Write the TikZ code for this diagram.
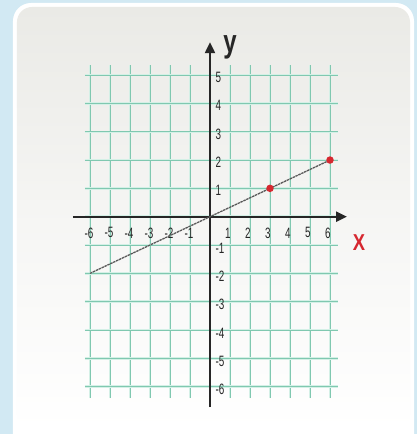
\documentclass[tikz,border=0pt]{standalone}
\usepackage{fontspec}
\setmainfont{Liberation Sans}
\usetikzlibrary{arrows.meta,positioning,calc}

\definecolor{bgblue}{RGB}{210,233,243}
\definecolor{panelgrey}{RGB}{234,234,230}
\definecolor{gridteal}{RGB}{128,200,176}
\definecolor{gridpale}{RGB}{212,240,230}
\definecolor{ptred}{RGB}{214,40,48}

\newcommand{\ticklab}[1]{\fontsize{15}{15}\selectfont\scalebox{0.66}[1]{#1}}

\tikzset{
    gridline/.style={gridpale, line width=2.4pt},
    gridcore/.style={gridteal, line width=0.7pt},
    axisline/.style={black!85, line width=2.2pt, -{Triangle[length=11pt,width=10pt]}},
    ticklabel/.style={inner sep=0pt, text=black!85},
    ptdot/.style={circle, fill=ptred, inner sep=0pt, minimum size=7.5pt}
}

\begin{document}
\begin{tikzpicture}[x=20pt, y=28.33pt]

                % Frame
                \useasboundingbox (-210pt,-217.3pt) rectangle (207pt,216.7pt);
                \clip (-210pt,-217.3pt) rectangle (207pt,216.7pt);
                \fill[bgblue] (-210pt,-217.3pt) rectangle (207pt,216.7pt);
                \fill[white, rounded corners=18pt] (-197pt,-240pt) rectangle (204pt,213.7pt);
                \shade[top color=panelgrey, bottom color=white, middle color=panelgrey!45,
                       rounded corners=15pt] (-193pt,-213pt) rectangle (200pt,209.7pt);

                % Grid lines
                \foreach \i in {-6,...,6} {
                    \draw[gridline] (\i,-6.4) -- (\i,5.35);
                    \draw[gridcore] (\i,-6.4) -- (\i,5.35);
                }
                \foreach \j in {-6,...,5} {
                    \draw[gridline] (-6.25,\j) -- (6.4,\j);
                    \draw[gridcore] (-6.25,\j) -- (6.4,\j);
                }

                % Axes
                \coordinate (xl) at (-6.85,0);
                \coordinate (xr) at (6.85,0);
                \coordinate (yb) at (0,-6.72);
                \coordinate (yt) at (0,6.16);
                \draw[axisline] (xl) -- (xr);
                \draw[axisline] (yb) -- (yt);

                % Axis names
                \node[font=\bfseries\fontsize{32}{32}\selectfont, inner sep=0pt, text=black!85] (ylab) at (1.0,5.98) {\scalebox{0.75}[1]{y}};
                \node[font=\bfseries\fontsize{23}{23}\selectfont, text=ptred, inner sep=0pt] (xlab) at (7.45,-0.9) {\scalebox{0.8}[1]{X}};

                % x labels
                \foreach \i in {-6,...,-1} {
                    \node[ticklabel] (xn\i) at (\i-0.05,-0.57) {\ticklab{\i}};
                }
                \foreach \i in {1,...,6} {
                    \node[ticklabel] (xp\i) at (\i-0.1,-0.57) {\ticklab{\i}};
                }

                % y labels
                \foreach \j in {1,...,5} {
                    \node[ticklabel] (yp\j) at (0.42,\j-0.08) {\ticklab{\j}};
                }
                \foreach \j in {1,...,6} {
                    \node[ticklabel] (yn\j) at (0.5,-\j-0.1) {\ticklab{-\j}};
                }

                % Line through the points
                \coordinate (lstart) at (-6,-2);
                \coordinate (c3) at (3,1);
                \coordinate (c6) at (6,2);
                \draw[black!65, line width=1.3pt, dash pattern=on 2.5pt off 0.7pt] (lstart) -- (c6);
                \node[ptdot] (p3) at (c3) {};
                \node[ptdot] (p6) at (c6) {};
            \end{tikzpicture}
\end{document}
